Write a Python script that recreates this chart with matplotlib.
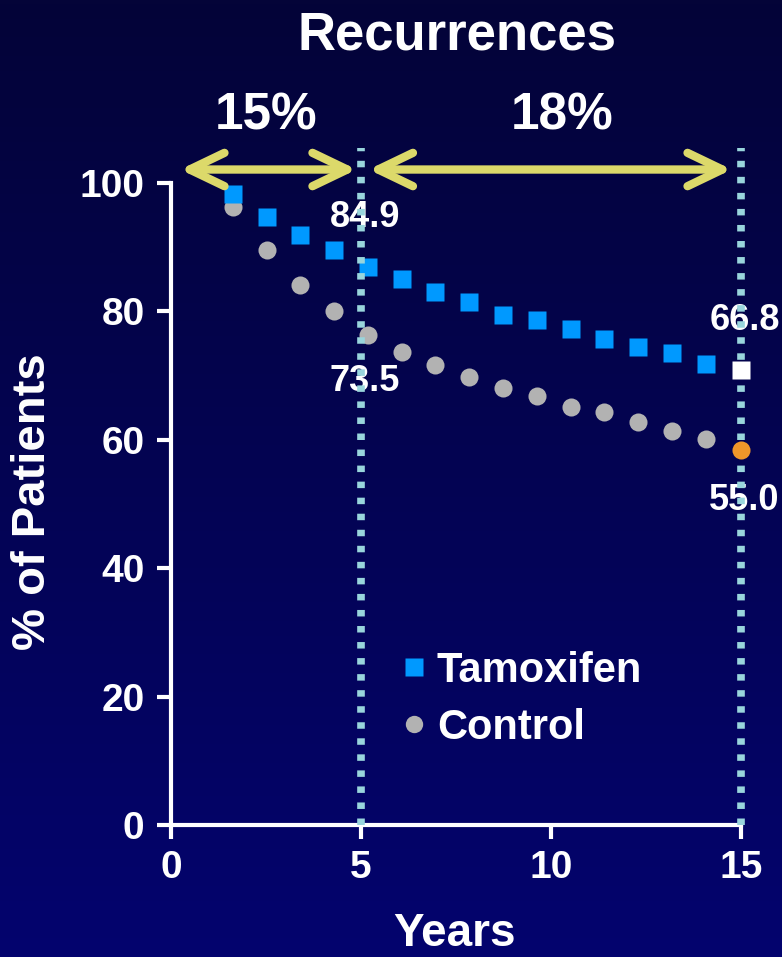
import numpy as np
import matplotlib.pyplot as plt
from matplotlib.patches import ArrowStyle

plt.rcParams['font.family'] = ['Liberation Sans', 'DejaVu Sans']
plt.rcParams['font.weight'] = 'bold'

#%% Data ######################################################################
years = [1.63, 2.52, 3.40, 4.30, 5.19, 6.08, 6.96, 7.85,
         8.73, 9.64, 10.52, 11.40, 12.29, 13.19, 14.08, 15.00]
tamoxifen = [98.3, 94.7, 91.9, 89.6, 86.9, 85.0, 83.0, 81.5,
             79.4, 78.6, 77.3, 75.7, 74.5, 73.5, 71.8, 70.8]
control = [96.3, 89.5, 84.1, 80.0, 76.3, 73.7, 71.7, 69.8,
           68.1, 66.8, 65.1, 64.4, 62.8, 61.4, 60.1, 58.4]

x_ticks = [0, 5, 10, 15]
y_ticks = [0, 20, 40, 60, 80, 100]
marks = [5, 15]                       # dotted reference years
spans = [(0.24, 4.89), (5.20, 14.76)]  # recurrence arrows
span_labels = ['15%', '18%']
value_labels = ['84.9', '73.5', '66.8', '55.0']

#%% Figure ####################################################################
W, H = 782, 957
fig = plt.figure(figsize=(W / 100, H / 100), dpi=100)

# dark navy gradient background
bg = fig.add_axes([0, 0, 1, 1], zorder=-10)
top = np.array([4, 4, 56]) / 255
bot = np.array([3, 3, 110]) / 255
t = np.linspace(0, 1, 256)[:, None]
grad = top + (bot - top) * t
bg.imshow(grad[:, None, :].repeat(2, axis=1), aspect='auto', extent=[0, 1, 0, 1])
bg.axis('off')

ax = fig.add_axes([171 / W, 132 / H, 570 / W, 642 / H])
ax.set_facecolor('none')
ax.set_xlim(0, 15)
ax.set_ylim(0, 100)

for s in ['top', 'right']:
    ax.spines[s].set_visible(False)
for s in ['left', 'bottom']:
    ax.spines[s].set_color('white')
    ax.spines[s].set_linewidth(3)

ax.set_xticks(x_ticks)
ax.set_yticks(y_ticks)
ax.tick_params(colors='white', width=3, length=10, labelsize=28)
ax.tick_params(axis='y', pad=9)
ax.tick_params(axis='x', pad=8)
for lab in ax.get_xticklabels() + ax.get_yticklabels():
    lab.set_fontweight('bold')

# series (last point highlighted separately)
ax.plot(years[:-1], tamoxifen[:-1], 's', color='#0099FF', ms=13.3,
        mec='none', zorder=3, clip_on=False)
ax.plot(years[:-1], control[:-1], 'o', color='#B2B2B2', ms=13,
        mec='none', zorder=2, clip_on=False)
ax.plot(years[-1:], tamoxifen[-1:], 's', color='white', ms=13.3,
        mec='none', zorder=7, clip_on=False)
ax.plot(years[-1:], control[-1:], 'o', color='#F0962A', ms=13,
        mec='none', zorder=7, clip_on=False)

# dotted reference lines
for m in marks:
    ax.plot([m, m], [0, 105.5], color='#99D5DC', lw=5.5,
            linestyle=(0, (0.85, 1.25)), dash_capstyle='butt',
            zorder=6, clip_on=False)

# value labels
lab_pos = [(5.105, 93.1), (5.105, 67.6), (15.09, 77.1), (15.08, 49.1)]
for txt, (x, y) in zip(value_labels, lab_pos):
    ax.text(x, y, txt, color='white', fontsize=26, fontweight='bold',
            ha='center', va='baseline', zorder=5, clip_on=False)

# recurrence arrows
style = ArrowStyle('<->', head_length=25, head_width=12)
for x0, x1 in spans:
    ax.annotate('', xy=(x1, 102.1), xytext=(x0, 102.1),
                annotation_clip=False,
                arrowprops=dict(arrowstyle=style, mutation_scale=1,
                                color='#DCD96A', lw=6, shrinkA=0,
                                shrinkB=0, capstyle='round'))

for txt, cx in zip(span_labels, [266, 562]):
    fig.text(cx / W, 1 - 130 / H, txt, color='white', fontsize=37,
             fontweight='bold', ha='center', va='baseline')

fig.text(457 / W, 1 - 49 / H, 'Recurrences', color='white', fontsize=38,
         fontweight='bold', ha='center', va='baseline')
fig.text(454 / W, 1 - 946 / H, 'Years', color='white', fontsize=33,
         fontweight='bold', ha='center', va='baseline')
fig.text(33.5 / W, 1 - 502 / H, '% of Patients', color='white', fontsize=34,
         fontweight='bold', ha='center', va='center', rotation=90)

# legend
h1, = ax.plot([], [], 's', color='#0099FF', ms=12.3, mec='none')
h2, = ax.plot([], [], 'o', color='#B2B2B2', ms=12.5, mec='none')
leg = ax.legend([h1, h2], ['Tamoxifen', 'Control'], loc='upper left',
                bbox_to_anchor=(403.6 / W, 1 - 651 / H),
                bbox_transform=fig.transFigure, frameon=False,
                prop={'size': 30, 'weight': 'bold'}, handlelength=0.5,
                handletextpad=0.3, labelspacing=0.41, borderpad=0,
                borderaxespad=0)
for t_ in leg.get_texts():
    t_.set_color('white')

fig.savefig('out.png', dpi=100)
